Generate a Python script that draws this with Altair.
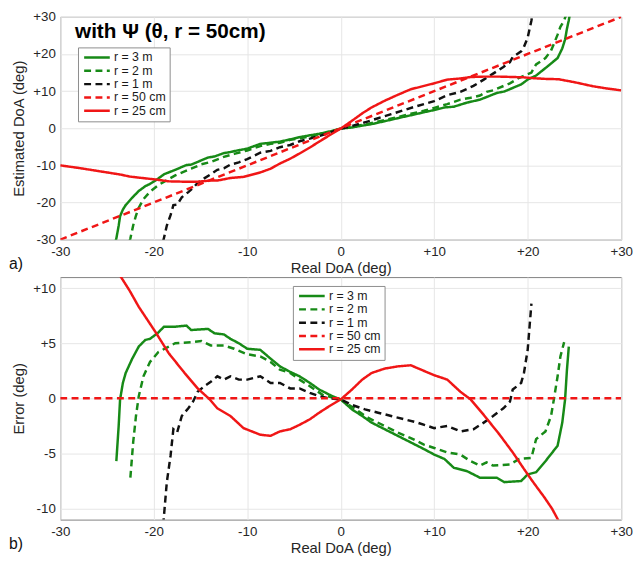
import altair as alt
import pandas as pd

series = ["r = 3 m", "r = 2 m", "r = 1 m", "r = 50 cm", "r = 25 cm"]
colors = ["#178a17", "#178a17", "#111111", "#f01616", "#f01616"]
dashes = [[1, 0], [7, 4.5], [7, 4.5], [7, 4.5], [1, 0]]

x_ticks = [-30, -20, -10, 0, 10, 20, 30]
top_y_ticks = [-30, -20, -10, 0, 10, 20, 30]
bot_y_ticks = [-10, -5, 0, 5, 10]

title_text = "with Ψ (θ, r = 50cm)"

# ---------------- panel a) : estimated DoA ----------------
t3_x = [-24.1, -24.0, -23.75, -23.6, -23.3, -23.0, -22.3, -21.6, -20.9, -20.4, -19.6, -18.9, -17.7, -16.5,
        -16.0, -14.2, -13.5, -12.5, -11.8, -10.9, -10.0, -8.6, -7.5, -6.5, -5.4, -4.4, -3.3, -2.3, -0.9,
        0.0, 1.2, 2.3, 3.3, 4.7, 6.1, 7.5, 8.9, 10.0, 11.1, 12.1, 13.5, 14.9, 16.7, 17.5, 19.3, 20.0,
        20.9, 21.9, 23.2, 23.7, 24.0, 24.2, 24.4, 24.5]
t3_y = [-30.5, -29.7, -26.25, -23.7, -21.9, -20.7, -18.7, -16.9, -15.6, -15.0, -13.7, -12.4, -11.2, -9.9,
        -9.8, -7.9, -7.6, -6.7, -6.4, -5.9, -5.5, -4.2, -3.9, -3.6, -3.0, -2.4, -1.9, -1.5, -0.7,
        -0.1, 0.2, 0.7, 1.1, 1.9, 2.7, 3.5, 4.3, 4.9, 5.6, 5.8, 6.9, 7.7, 9.5, 9.9, 11.8, 13.1,
        14.2, 16.2, 18.9, 21.5, 23.9, 26.8, 29.1, 30.5]

t2_x = [-22.6, -22.5, -22.2, -21.9, -21.6, -21.1, -20.4, -19.5, -18.4, -17.7, -16.0, -14.9, -13.9, -12.5,
        -11.4, -10.0, -8.6, -7.5, -6.5, -5.4, -4.4, -3.3, -1.9, 0.0, 1.6, 3.0, 4.7, 6.1, 7.5, 8.9, 10.0,
        11.4, 12.8, 13.9, 14.9, 15.6, 16.3, 18.1, 19.1, 20.4, 20.9, 21.9, 22.5, 22.8, 23.2, 23.5, 23.9, 24.1]
t2_y = [-30.5, -29.7, -26.2, -23.5, -21.4, -19.1, -17.1, -15.3, -13.7, -12.7, -10.9, -9.7, -9.1, -7.7,
        -6.9, -6.0, -4.8, -4.2, -3.9, -3.1, -2.7, -2.2, -1.6, -0.1, 0.6, 1.2, 2.2, 3.0, 3.9, 4.7, 5.5,
        6.5, 7.7, 8.2, 8.8, 9.8, 10.2, 12.1, 13.6, 15.0, 17.2, 18.9, 20.9, 22.7, 25.2, 27.3, 29.0, 30.5]

t1_x = [-19.0, -18.9, -18.6, -18.2, -17.9, -17.5, -17.0, -16.3, -15.8, -15.3, -14.6, -13.9, -13.2, -12.5,
        -11.8, -10.9, -10.0, -8.6, -7.5, -6.5, -5.4, -4.4, -3.3, -2.3, -1.2, 0.0, 1.2, 2.6, 4.0, 5.4,
        6.8, 8.2, 10.0, 11.4, 12.8, 14.2, 15.3, 16.3, 17.4, 18.1, 18.4, 19.3, 19.6, 20.0, 20.2, 20.4, 20.5]
t1_y = [-30.5, -29.5, -26.2, -23.4, -20.7, -20.6, -18.6, -17.2, -16.1, -14.7, -13.5, -12.4, -11.2, -10.8,
        -9.8, -9.2, -8.3, -6.6, -6.1, -5.1, -4.5, -3.5, -2.8, -2.1, -1.2, -0.1, 0.6, 1.6, 2.7, 3.8,
        4.9, 6.0, 7.3, 8.9, 9.8, 11.4, 13.1, 14.7, 16.5, 17.8, 19.2, 20.7, 21.9, 24.4, 26.7, 29.0, 30.5]

t50_x = [-30, 30]
t50_y = [-30, 30]

t25_x = [-30, -28, -26, -24.5, -23.5, -22.6, -21.6, -19.8, -18.4, -16.7, -15.3, -14.0, -13.2, -11.8,
         -10.4, -8.6, -7.5, -6.5, -5.4, -4.4, -3.3, -2.3, -1.2, 0.0, 1.2, 2.3, 3.3, 4.7, 6.1, 7.5, 8.6,
         10.0, 11.4, 12.8, 13.9, 15.3, 17.0, 18.4, 19.6, 20.5, 21.8, 23.3, 25, 27, 28.5, 30]
t25_y = [-10.0, -10.7, -11.5, -12.1, -12.5, -13.0, -13.3, -13.8, -14.3, -14.4, -14.4, -14.1, -14.1, -13.4,
         -13.1, -11.9, -10.9, -9.5, -8.2, -6.8, -5.2, -3.6, -1.9, -0.1, 2.0, 4.0, 5.6, 7.4, 9.0, 10.5, 11.2,
         12.1, 13.1, 13.4, 13.8, 13.9, 13.9, 13.8, 13.7, 13.5, 13.3, 13.2, 12.4, 11.3, 10.7, 10.2]

# ---------------- panel b) : error ----------------
b3_x = [-24.0, -23.75, -23.6, -23.3, -23.0, -22.3, -21.6, -20.9, -20.4, -19.6, -18.9, -17.7, -16.5,
        -16.0, -14.2, -13.5, -12.5, -11.8, -10.9, -10.0, -8.6, -7.5, -6.5, -5.4, -4.4, -3.3, -2.3, -0.9,
        0.0, 1.2, 2.3, 3.3, 4.7, 6.1, 7.5, 8.9, 10.0, 11.1, 12.1, 13.5, 14.9, 16.7, 17.5, 19.3, 20.0,
        20.9, 21.9, 23.2, 23.7, 24.0, 24.2, 24.4]
b3_y = [-5.7, -2.5, -0.1, 1.4, 2.3, 3.6, 4.7, 5.3, 5.4, 5.9, 6.5, 6.5, 6.6,
        6.2, 6.3, 5.9, 5.8, 5.4, 5.0, 4.5, 4.4, 3.6, 2.9, 2.4, 2.0, 1.4, 0.8, 0.2,
        -0.1, -1.0, -1.6, -2.2, -2.8, -3.4, -4.0, -4.6, -5.1, -5.5, -6.3, -6.6, -7.2, -7.2, -7.6, -7.5, -6.9,
        -6.7, -5.7, -4.3, -2.2, -0.1, 2.6, 4.7]

b2_x = [-22.5, -22.2, -21.9, -21.6, -21.1, -20.4, -19.5, -18.4, -17.7, -16.0, -14.9, -13.9, -12.5,
        -11.4, -10.0, -8.6, -7.5, -6.5, -5.4, -4.4, -3.3, -1.9, 0.0, 1.6, 3.0, 4.7, 6.1, 7.5, 8.9, 10.0,
        11.4, 12.8, 13.9, 14.9, 15.6, 16.3, 18.1, 19.1, 20.4, 20.9, 21.9, 22.5, 22.8, 23.2, 23.5, 23.9]
b2_y = [-7.2, -4.0, -1.6, 0.2, 2.0, 3.3, 4.2, 4.7, 5.0, 5.1, 5.2, 4.8, 4.8,
        4.5, 4.0, 3.8, 3.3, 2.6, 2.3, 1.7, 1.1, 0.3, -0.1, -1.0, -1.8, -2.5, -3.1, -3.6, -4.2, -4.5,
        -4.9, -5.1, -5.7, -6.1, -5.8, -6.1, -6.0, -5.5, -5.4, -3.7, -3.0, -1.6, -0.1, 2.0, 3.8, 5.1]

b1_x = [-19.0, -18.9, -18.6, -18.2, -17.9, -17.5, -17.0, -16.3, -15.8, -15.3, -14.6, -13.9, -13.2, -12.5,
        -11.8, -10.9, -10.0, -8.6, -7.5, -6.5, -5.4, -4.4, -3.3, -2.3, -1.2, 0.0, 1.2, 2.6, 4.0, 5.4,
        6.8, 8.2, 10.0, 11.4, 12.8, 14.2, 15.3, 16.3, 17.4, 18.1, 18.4, 19.3, 19.6, 20.0, 20.2, 20.4]
b1_y = [-11.5, -10.6, -7.6, -5.2, -2.8, -3.1, -1.6, -0.9, -0.3, 0.6, 1.1, 1.5, 2.0, 1.7,
        2.0, 1.7, 1.7, 2.0, 1.4, 1.4, 0.9, 0.9, 0.5, 0.2, 0.0, -0.1, -0.6, -1.0, -1.3, -1.6,
        -1.9, -2.2, -2.7, -2.5, -3.0, -2.8, -2.2, -1.6, -0.9, -0.3, 0.8, 1.4, 2.3, 4.4, 6.5, 8.6]

b50_x = [-30, 30]
b50_y = [0, 0]

b25_x = [-24.5, -23.5, -22.6, -21.6, -19.8, -18.4, -16.7, -15.3, -14.0, -13.2, -11.8, -10.4, -8.6, -7.5,
         -6.5, -5.4, -4.4, -3.3, -2.3, -1.2, 0.0, 1.2, 2.3, 3.3, 4.7, 6.1, 7.5, 8.6, 10.0, 11.4, 12.8,
         13.9, 15.3, 17.0, 18.4, 19.6, 20.5, 21.8, 22.6, 23.3]
b25_y = [12.4, 11.0, 9.8, 8.3, 6.0, 4.1, 2.3, 0.9, -0.1, -0.9, -1.6, -2.7, -3.3, -3.4,
         -3.0, -2.8, -2.4, -1.9, -1.3, -0.7, -0.1, 0.8, 1.7, 2.3, 2.7, 2.9, 3.0, 2.6, 2.1, 1.7, 0.6,
         -0.1, -1.5, -3.3, -4.9, -6.4, -7.5, -9.0, -10.0, -11.1]


def build(pairs):
    rows = []
    for name, (xs, ys) in zip(series, pairs):
        if len(xs) != len(ys):
            raise ValueError(f"length mismatch in {name}: {len(xs)} vs {len(ys)}")
        for i, (xv, yv) in enumerate(zip(xs, ys)):
            rows.append({"series": name, "x": xv, "y": yv, "i": i})
    return pd.DataFrame(rows)


top_df = build([(t3_x, t3_y), (t2_x, t2_y), (t1_x, t1_y), (t50_x, t50_y), (t25_x, t25_y)])
bot_df = build([(b3_x, b3_y), (b2_x, b2_y), (b1_x, b1_y), (b50_x, b50_y), (b25_x, b25_y)])

label_expr = "datum.value > 0 ? '+' + datum.value : '' + datum.value"
FONT = "Liberation Sans"


def legend(lx, ly):
    return alt.Legend(orient="none", legendX=lx, legendY=ly, title=None,
                      fillColor="white", strokeColor="#8c8c8c", padding=4,
                      labelFont=FONT, labelFontSize=12.5, labelColor="#1a1a1a",
                      symbolType="M-1,0H5.5", symbolSize=64, symbolStrokeWidth=2.5,
                      labelOffset=20, rowPadding=0.5)


def panel(df, y_domain, y_ticks, y_title, lx, ly, tag, w, h, with_title):
    x_enc = alt.X("x:Q", scale=alt.Scale(domain=[-30, 30], nice=False, zero=False),
                  axis=alt.Axis(values=x_ticks, tickCount=len(x_ticks), labelExpr=label_expr,
                                title="Real DoA (deg)", titlePadding=3,
                                labelOverlap=False, labelFlush=False))
    y_enc = alt.Y("y:Q", scale=alt.Scale(domain=y_domain, nice=False, zero=False),
                  axis=alt.Axis(values=y_ticks, tickCount=len(y_ticks), labelExpr=label_expr,
                                title=y_title, titlePadding=6,
                                labelOverlap=False, labelFlush=False, labelBound=False))
    lines = alt.Chart(df).mark_line(strokeWidth=2.5, clip=True).encode(
        x=x_enc, y=y_enc,
        color=alt.Color("series:N", scale=alt.Scale(domain=series, range=colors), legend=legend(lx, ly)),
        strokeDash=alt.StrokeDash("series:N", scale=alt.Scale(domain=series, range=dashes),
                                  legend=legend(lx, ly)),
        order="i:Q",
    )
    layers = [lines]
    tag_df = pd.DataFrame({"t": [tag]})
    layers.append(alt.Chart(tag_df).mark_text(align="left", baseline="alphabetic", dx=-52, dy=30,
                                              fontSize=16, font=FONT, color="#111111").encode(
        x=alt.datum(-30), y=alt.datum(y_domain[0]), text="t:N"))
    if with_title:
        t_df = pd.DataFrame({"t": [title_text]})
        layers.append(alt.Chart(t_df).mark_text(align="left", baseline="alphabetic", dx=15, dy=21,
                                                fontSize=21, fontWeight="bold", font=FONT,
                                                color="#000000").encode(
            x=alt.datum(-30), y=alt.datum(y_domain[1]), text="t:N"))
    return alt.layer(*layers).properties(width=w, height=h)


top = panel(top_df, [-30, 30], top_y_ticks, "Estimated DoA (deg)", 18, 31, "a)", 569, 226, True)
bottom = panel(bot_df, [-11, 11], bot_y_ticks, "Error (deg)", 236, 9, "b)", 569, 246, False)

chart = alt.vconcat(top, bottom, spacing=38, bounds="flush").resolve_scale(
    x="independent", y="independent", color="independent", strokeDash="independent"
).resolve_legend(color="independent", strokeDash="independent").properties(
    padding={"left": 0, "top": -3, "right": 0, "bottom": 0},
    background="white",
).configure_axis(
    labelFont=FONT, labelFontSize=13.5, labelColor="#262626",
    titleFont=FONT, titleFontSize=15, titleFontWeight="normal", titleColor="#262626",
    gridColor="#e6e6e6", gridWidth=1, ticks=False, domain=False, labelPadding=5, labelFlush=False,
    labelOverlap=False,
).configure_view(stroke="#808080", strokeWidth=1)

chart.save("out.html", embed_options={"renderer": "svg", "actions": False})
